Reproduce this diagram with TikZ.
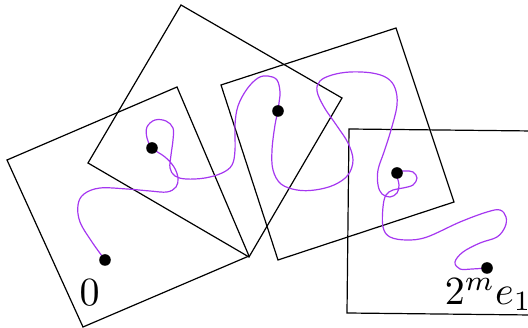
\documentclass[tikz,border=0pt]{standalone}
\definecolor{walkcol}{RGB}{165,55,240}
\tikzset{
  box/.style={line width=1.2pt, line join=miter},
  walk/.style={line width=1.2pt, walkcol},
  lbl/.style={scale=4.0, inner sep=0pt}
}
\begin{document}
\begin{tikzpicture}[x=1pt,y=-1pt]
    \useasboundingbox (0,0) rectangle (528,328);
    \clip (0,0) rectangle (528,328);
    % boxes
    \draw[box] (7,160) -- (177,87) -- (249,256) -- (83,327) -- cycle;
    \draw[box] (88,163) -- (181,5) -- (342,98) -- (249,257) -- cycle;
    \draw[box] (221,85) -- (396,28) -- (454,202) -- (278,260) -- cycle;
    \draw[box] (349,129) -- (533,131) -- (531,315) -- (347,313) -- cycle;
    % path
    \draw[walk] plot[smooth, tension=0.6] coordinates {
      (105,260) (92,242) (80,222) (78,205) (84,194) (100,188) (127,189)
      (150,191) (167,192) (176,187) (178,178) (174,167) (165,157) (152,148)
      (147,138) (147,127) (155,120) (166,121) (173,128) (173,140) (171,155)
      (170,168) (175,176) (186,179) (205,178) (222,173) (232,165) (235,150)
      (235,125) (238,106) (247,89) (258,78) (268,76) (277,80) (280,92)
      (279,103) (278,111) (275,125) (272,150) (273,170) (281,184) (297,190)
      (315,190) (334,185) (348,175) (353,160) (348,143) (337,126) (324,107)
      (317,91) (320,81) (332,75) (350,72) (372,73) (387,78) (395,88)
      (397,105) (391,130) (384,152) (378,170) (378,185) (382,194) (390,197)
      (397,193) (399,185) (397,173) (405,171) (413,172) (417,178) (413,185)
      (403,188) (393,190) (386,195) (383,207) (383,227) (390,237) (407,240)
      (427,237) (460,222) (487,212) (500,210) (506,217) (505,227) (497,237)
      (480,243) (463,252) (455,262) (460,269) (472,269) (487,268)};
    % centres
    \foreach \p in {(105,260),(152,148),(278,111),(397,173),(487,268)}
      \fill \p circle (5.8pt);
    % labels
    \node[lbl, anchor=base] (orig) at (89.5,306) {$0$};
    \node[lbl, anchor=base west] (target) at (444,305) {$2^m e_1$};
\end{tikzpicture}
\end{document}
